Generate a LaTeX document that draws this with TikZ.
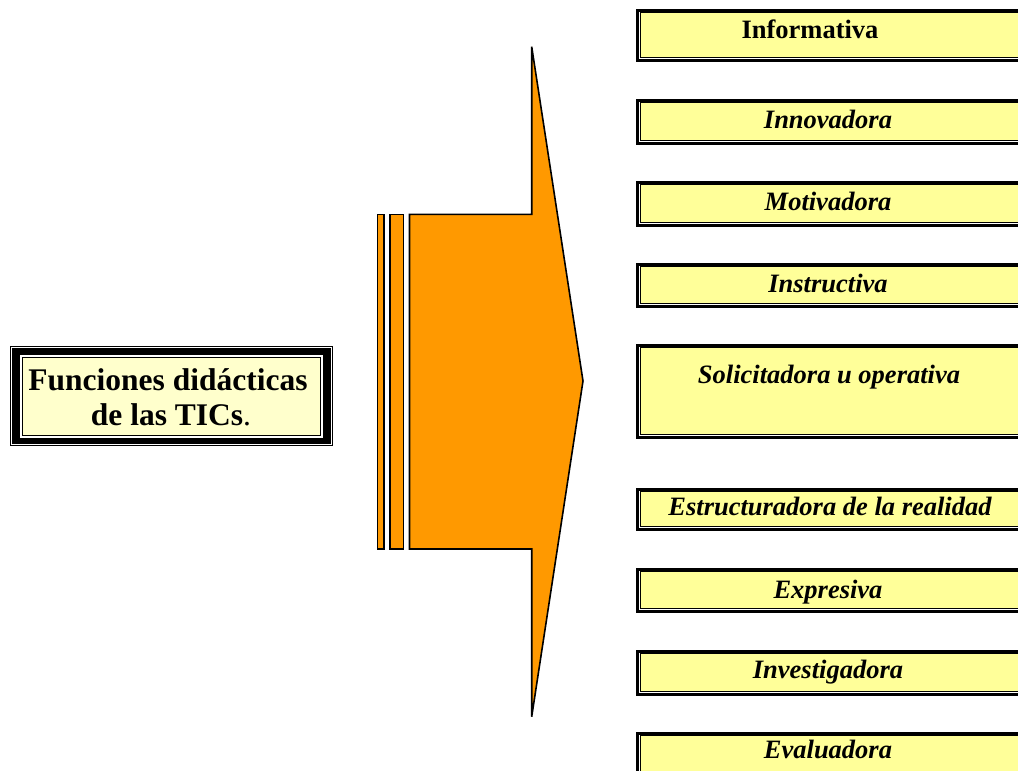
\documentclass[tikz,border=0pt]{standalone}
\usepackage{fontspec}
\setmainfont{Liberation Serif}
\definecolor{boxyellow}{HTML}{FFFF99}
\definecolor{mainyellow}{HTML}{FFFFCC}
\definecolor{arroworange}{HTML}{FF9900}
\tikzset{
  ftext/.style={font=\fontsize{26.5}{30}\selectfont\bfseries\itshape, anchor=base, inner sep=0pt},
  titletext/.style={font=\fontsize{31.5}{34}\selectfont\bfseries, anchor=base, inner sep=0pt},
  orangepart/.style={fill=arroworange, draw=black, line width=1.6pt, line join=miter},
}
\newcommand{\funcbox}[2]{%
  \fill[white] (636,#1) rectangle (1030,#2);
  \draw[line width=2.6pt] (637.3,#1+1.3) rectangle (1040,#2-1.3);
  \filldraw[fill=boxyellow, draw=black, line width=1pt] (640.5,#1+3) rectangle (1040,#2-4.5);
}
\begin{document}
\begin{tikzpicture}[x=1pt, y=-1pt]
\useasboundingbox (0,0) rectangle (1018,771);
% central box
\fill[black] (10,346) rectangle (333,446);
\draw[white, line width=0.8pt] (11.5,347.5) rectangle (331.5,444.5);
\fill[white] (20,355) rectangle (323,438);
\filldraw[fill=mainyellow, draw=black, line width=1pt] (22.5,357.5) rectangle (320.5,435.5);
\node[titletext] (title1) at (168,390) {Funciones didácticas};
\node[titletext] (title2) at (171,425) {de las TICs{\mdseries.}};
% arrow
\draw[orangepart] (377.3,214.3) rectangle (384,549);
\draw[orangepart] (390,214.3) rectangle (403.3,549);
\draw[orangepart] (409.5,214.3) -- (531.7,214.3) -- (531.7,46.7) -- (583,381) -- (531.7,716.7) -- (531.7,549) -- (409.5,549) -- cycle;
% boxes
\funcbox{9}{62}
\funcbox{99}{145}
\funcbox{181}{227}
\funcbox{263}{308}
\funcbox{344}{439}
\funcbox{488}{531}
\funcbox{568}{613}
\funcbox{650}{696}
\funcbox{732}{790}
\node[ftext, font=\fontsize{26.5}{30}\selectfont\bfseries] (f1) at (810,38) {Informativa};
\node[ftext] (f2) at (828,128) {Innovadora};
\node[ftext] (f3) at (828,210) {Motivadora};
\node[ftext] (f4) at (828,292) {Instructiva};
\node[ftext] (f5) at (829,383) {Solicitadora u operativa};
\node[ftext] (f6) at (830,515) {Estructuradora de la realidad};
\node[ftext] (f7) at (828,598) {Expresiva};
\node[ftext] (f8) at (828,678) {Investigadora};
\node[ftext] (f9) at (828,758) {Evaluadora};
\end{tikzpicture}
\end{document}
